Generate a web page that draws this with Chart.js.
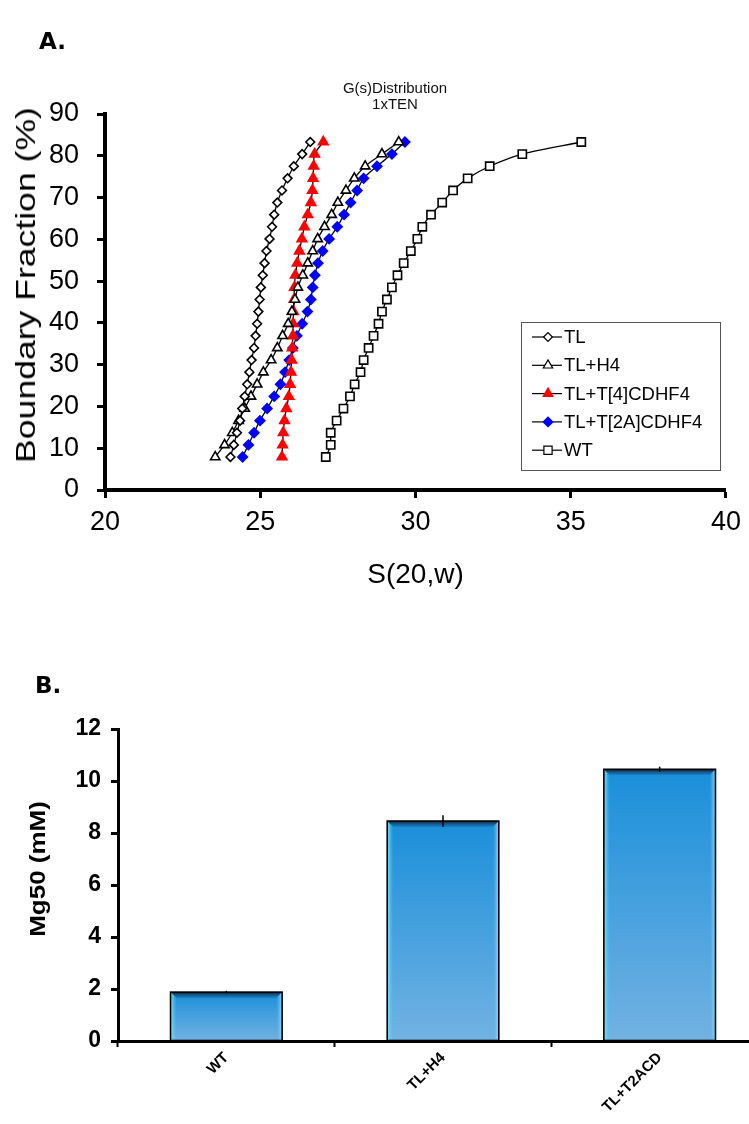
<!DOCTYPE html>
<html><head><meta charset="utf-8">
<script src="https://cdn.jsdelivr.net/npm/chart.js@4.4.1/dist/chart.umd.min.js"></script>
<style>
html,body{margin:0;padding:0;background:#fff}
body{width:749px;height:1124px;position:relative;overflow:hidden;font-family:"Liberation Sans",Arial,sans-serif}
#c1{position:absolute;left:0;top:0;width:749px;height:620px}
#c2{position:absolute;left:0;top:620px;width:790px;height:504px}
.lab{position:absolute;font-family:"DejaVu Sans",sans-serif;font-weight:bold;font-size:23px;color:#000}
.sub{position:absolute;font-size:15px;text-align:center;line-height:16px;color:#111}
.ytitle{position:absolute;color:#000;white-space:nowrap;text-align:center;transform-origin:center center}
</style></head><body>
<canvas id="c1" width="749" height="620"></canvas>
<canvas id="c2" width="790" height="504"></canvas>
<div class="lab" style="left:39px;top:28px">A.</div>
<div class="sub" style="left:325px;top:80px;width:140px">G(s)Distribution<br>1xTEN</div>
<div class="lab" style="left:35px;top:672px">B.</div>
<div class="ytitle" id="yt" style="font-size:28px;left:-124px;top:269px;width:300px;transform:rotate(-90deg) scaleX(1.27)">Boundary Fraction (%)</div>
<div class="ytitle" id="yt2" style="font-size:22px;font-weight:bold;left:-62px;top:856px;width:200px;transform:rotate(-90deg) scaleX(1.18)">Mg50 (mM)</div>
<script>
// ---------- Panel A data ----------
const fractions = [7.9,10.8,13.7,16.6,19.5,22.4,25.3,28.2,31.1,34.0,36.9,39.8,42.7,45.6,48.5,51.4,54.3,57.2,60.1,63.0,65.9,68.8,71.7,74.6,77.5,80.4,83.3];
const sTL    = [24.04,24.15,24.25,24.35,24.42,24.50,24.58,24.65,24.72,24.80,24.85,24.90,24.94,24.98,25.02,25.08,25.14,25.20,25.30,25.38,25.45,25.55,25.70,25.88,26.08,26.35,26.61];
const sTLH4  = [23.55,23.85,24.10,24.30,24.50,24.70,24.90,25.10,25.35,25.55,25.72,25.90,26.02,26.12,26.21,26.37,26.53,26.69,26.85,27.07,27.30,27.50,27.76,28.03,28.38,28.92,29.46];
const sT4    = [25.70,25.72,25.74,25.78,25.84,25.92,25.96,25.99,26.01,26.03,26.05,26.06,26.07,26.09,26.10,26.13,26.19,26.26,26.34,26.42,26.53,26.63,26.68,26.70,26.72,26.75,27.03];
const sT2A   = [24.43,24.62,24.80,24.99,25.22,25.45,25.65,25.80,25.93,26.05,26.18,26.35,26.52,26.63,26.69,26.76,26.86,27.01,27.22,27.48,27.70,27.91,28.12,28.33,28.76,29.24,29.66];
const sWT    = [27.11,27.27,27.27,27.46,27.68,27.89,28.04,28.23,28.33,28.49,28.65,28.81,28.92,29.08,29.24,29.42,29.62,29.85,30.06,30.22,30.50,30.86,31.21,31.68,32.39,33.44,35.34];
const seriesNames = ['TL','TL+H4','TL+T[4]CDHF4','TL+T[2A]CDHF4','WT'];
const xTicksA = [20,25,30,35,40];
const yTicksA = [0,10,20,30,40,50,60,70,80,90];
const titleXA = 'S(20,w)';

// ---------- Panel B data ----------
const barCats = ['WT','TL+H4','TL+T2ACD'];
const mg50    = [1.88,8.46,10.45];
const mg50Err = [0.05,0.22,0.10];
const yTicksB = [0,2,4,6,8,10,12];

const FONT = '"Liberation Sans", Arial, sans-serif';
const pts = xs => xs.map((x,i)=>({x:x, y:fractions[i]}));

const styles = [
  {pointStyle:'rectRot', radius:4.4, fill:'#ffffff', stroke:'#000000'},
  {pointStyle:'triangle', radius:5.4, fill:'#ffffff', stroke:'#000000'},
  {pointStyle:'triangle', radius:5.6, fill:'#ff0000', stroke:'#ff0000'},
  {pointStyle:'rectRot', radius:4.8, fill:'#0000ff', stroke:'#0000ff'},
  {pointStyle:'rect', radius:5.8, fill:'#ffffff', stroke:'#000000'}
];
const seriesData = [sTL, sTLH4, sT4, sT2A, sWT];

const datasetsA = seriesData.map((arr,i)=>({
  label: seriesNames[i],
  data: pts(arr),
  showLine: true,
  borderColor: '#000',
  borderWidth: 1.3,
  tension: 0.3,
  pointStyle: styles[i].pointStyle,
  pointRadius: styles[i].radius,
  pointBackgroundColor: styles[i].fill,
  pointBorderColor: styles[i].stroke,
  pointBorderWidth: 1.6
}));

const legendA = {
  id:'legendA',
  afterDraw(chart){
    const c = chart.ctx;
    c.save();
    const bx=521, by=322, bw=199, bh=148;
    c.strokeStyle='#555'; c.lineWidth=1;
    c.strokeRect(bx+0.5, by+0.5, bw, bh);
    c.font = '18.5px ' + FONT;
    c.textBaseline = 'middle';
    chart.data.datasets.forEach((ds,i)=>{
      const yy = by + 15 + i*28.3;
      c.strokeStyle='#000'; c.lineWidth=1.2;
      c.beginPath(); c.moveTo(bx+11, yy); c.lineTo(bx+41, yy); c.stroke();
      c.fillStyle = styles[i].fill; c.strokeStyle = styles[i].stroke; c.lineWidth=1.2;
      Chart.helpers.drawPoint(c, {pointStyle:styles[i].pointStyle, radius:styles[i].radius, borderWidth:1.2, rotation:0}, bx+27, yy);
      c.fillStyle='#000';
      c.fillText(ds.label, bx+43, yy+1);
    });
    c.restore();
  }
};

new Chart(document.getElementById('c1'), {
  type:'scatter',
  data:{datasets:datasetsA},
  plugins:[legendA],
  options:{
    responsive:false, animation:false, devicePixelRatio:1,
    layout:{padding:{top:114, right:16, left:0, bottom:0}},
    plugins:{legend:{display:false}, tooltip:{enabled:false}},
    scales:{
      x:{
        type:'linear', min:20, max:40,
        afterBuildTicks(s){ s.ticks = xTicksA.map(v=>({value:v})); },
        afterFit(s){ s.height = 130; },
        ticks:{color:'#000', font:{family:FONT, size:27}, padding:8},
        grid:{drawOnChartArea:false, drawTicks:true, tickLength:8, tickWidth:3, color:'#000'},
        border:{display:true, color:'#000', width:4},
        title:{display:true, text:titleXA, color:'#000', font:{family:FONT, size:28}, padding:{top:0,bottom:28}}
      },
      y:{
        type:'linear', min:0, max:90,
        afterBuildTicks(s){ s.ticks = yTicksA.map(v=>({value:v})); },
        afterFit(s){ s.width = 105; },
        ticks:{color:'#000', font:{family:FONT, size:27}, padding:18},
        grid:{drawOnChartArea:false, drawTicks:true, tickLength:8, tickWidth:3, color:'#000'},
        border:{display:true, color:'#000', width:4},
        title:{display:false}
      }
    }
  }
});

// ---------- Panel B ----------
const bevel = {
  id:'bevel',
  afterDatasetsDraw(chart){
    const c = chart.ctx;
    const meta = chart.getDatasetMeta(0);
    const ys = chart.scales.y;
    meta.data.forEach((el,i)=>{
      const p = el.getProps(['x','y','base','width'], true);
      const l=p.x-p.width/2, r=p.x+p.width/2, t=p.y, b=p.base, d=6;
      if(![l,r,t,b].every(isFinite)) return;
      c.save();
      let g0=c.createLinearGradient(0,t,0,b);
      g0.addColorStop(0,'#1a8fda'); g0.addColorStop(1,'#72b2e2');
      c.fillStyle=g0; c.fillRect(l,t,p.width,b-t);
      let g=c.createLinearGradient(l,0,l+d,0);
      g.addColorStop(0,'#7ee9ff'); g.addColorStop(1,'rgba(70,200,245,0)');
      c.fillStyle=g; c.beginPath(); c.moveTo(l,t); c.lineTo(l+d,t+d); c.lineTo(l+d,b); c.lineTo(l,b); c.closePath(); c.fill();
      g=c.createLinearGradient(r,0,r-d,0);
      g.addColorStop(0,'#9fe2f6'); g.addColorStop(1,'rgba(80,170,225,0)');
      c.fillStyle=g; c.beginPath(); c.moveTo(r,t); c.lineTo(r-d,t+d); c.lineTo(r-d,b); c.lineTo(r,b); c.closePath(); c.fill();
      g=c.createLinearGradient(0,t,0,t+d+1);
      g.addColorStop(0,'#0a1f33'); g.addColorStop(1,'rgba(25,120,190,0.3)');
      c.fillStyle=g; c.beginPath(); c.moveTo(l,t); c.lineTo(r,t); c.lineTo(r-d,t+d); c.lineTo(l+d,t+d); c.closePath(); c.fill();
      c.strokeStyle='#000'; c.lineWidth=1.6; c.strokeRect(l,t,p.width,b-t);
      const e1 = ys.getPixelForValue(mg50[i]+mg50Err[i]);
      const e2 = ys.getPixelForValue(mg50[i]-mg50Err[i]);
      c.strokeStyle='#000'; c.lineWidth=1.5;
      c.beginPath(); c.moveTo(p.x,e1); c.lineTo(p.x,e2); c.stroke();
      c.restore();
    });
  }
};

new Chart(document.getElementById('c2'), {
  type:'bar',
  data:{labels:barCats, datasets:[{data:mg50, backgroundColor:'#3a9de0', borderWidth:0, barPercentage:0.515, categoryPercentage:1}]},
  plugins:[bevel],
  options:{
    responsive:false, animation:false, devicePixelRatio:1,
    layout:{padding:{top:109, right:22, left:0, bottom:0}},
    plugins:{legend:{display:false}, tooltip:{enabled:false}},
    scales:{
      x:{
        afterFit(s){ s.height = 83; },
        ticks:{color:'#000', font:{family:FONT, size:15, weight:'bold'}, maxRotation:45, minRotation:45, padding:2},
        grid:{drawOnChartArea:false, drawTicks:true, tickLength:6, tickWidth:2, color:'#000', offset:true},
        border:{display:true, color:'#000', width:3}
      },
      y:{
        type:'linear', min:0, max:12,
        afterBuildTicks(s){ s.ticks = yTicksB.map(v=>({value:v})); },
        afterFit(s){ s.width = 118; },
        ticks:{color:'#000', font:{family:FONT, size:23, weight:'bold'}, padding:10},
        grid:{drawOnChartArea:false, drawTicks:true, tickLength:7, tickWidth:3, color:'#000'},
        border:{display:true, color:'#000', width:3},
        title:{display:false}
      }
    }
  }
});
</script>
</body></html>
